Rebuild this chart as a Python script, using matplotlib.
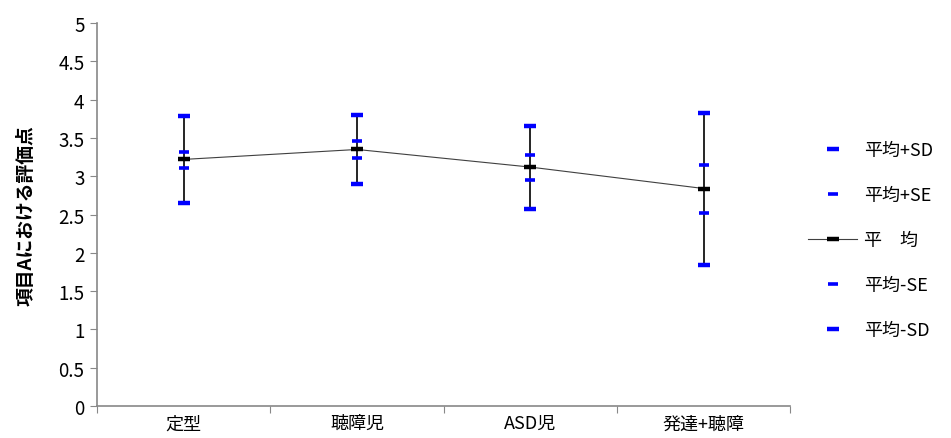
import matplotlib.pyplot as plt
import numpy as np

plt.rcParams['font.family'] = ['Noto Sans CJK JP', 'DejaVu Sans']

# data
groups = ['定型', '聴障児', 'ASD児', '発達+聴障']
mean = [3.22, 3.35, 3.12, 2.84]
sd_hi = [3.79, 3.80, 3.66, 3.83]
se_hi = [3.32, 3.46, 3.28, 3.15]
se_lo = [3.11, 3.24, 2.95, 2.52]
sd_lo = [2.65, 2.90, 2.57, 1.84]

fig = plt.figure(figsize=(9.51, 4.39), dpi=100)
ax = fig.add_axes([0.102, 0.073, 0.729, 0.872])

x = np.arange(len(groups))
blue = '#0000ff'

# vertical range lines
ax.vlines(x, sd_lo, sd_hi, color='black', lw=1.2, zorder=2)

ax.plot(x, sd_hi, ls='none', marker='_', ms=9, mew=3.2, color=blue, label='平均+SD', zorder=3)
ax.plot(x, se_hi, ls='none', marker='_', ms=6.5, mew=2.6, color=blue, label='平均+SE', zorder=3)
ax.plot(x, mean, ls='-', lw=0.8, color='#404040', marker='_', ms=9, mew=3.2,
        mec='black', label='平\u3000均', zorder=3)
ax.plot(x, se_lo, ls='none', marker='_', ms=6.5, mew=2.6, color=blue, label='平均-SE', zorder=3)
ax.plot(x, sd_lo, ls='none', marker='_', ms=9, mew=3.2, color=blue, label='平均-SD', zorder=3)

ax.set_xlim(-0.5, len(groups) - 0.5)
ax.set_ylim(0, 5)
ax.set_yticks(np.arange(0, 5.01, 0.5))
ax.set_yticklabels(['0', '0.5', '1', '1.5', '2', '2.5', '3', '3.5', '4', '4.5', '5'])

# category labels centred, tick marks on boundaries
ax.set_xticks(np.arange(-0.5, len(groups), 1.0))
ax.set_xticklabels([])
ax.set_xticks(x, minor=True)
ax.set_xticklabels(groups, minor=True, fontsize=13)
ax.tick_params(axis='x', which='minor', length=0, pad=6)
ax.tick_params(axis='x', which='major', length=5, color='#888888', direction='out')
ax.tick_params(axis='y', length=5, color='#888888', labelsize=13.5, pad=4)

ax.set_ylabel('項目Aにおける評価点', fontsize=13.5, fontweight='bold', labelpad=16)

for s in ['top', 'right']:
    ax.spines[s].set_visible(False)
for s in ['left', 'bottom']:
    ax.spines[s].set_color('#888888')
    ax.spines[s].set_linewidth(1.2)

ax.legend(loc='center left', bbox_to_anchor=(1.026, 0.433), frameon=False,
          borderaxespad=0, borderpad=0, fontsize=13, labelspacing=1.5,
          handlelength=2.7, handletextpad=0.4)

fig.savefig('out.png', dpi=100)
